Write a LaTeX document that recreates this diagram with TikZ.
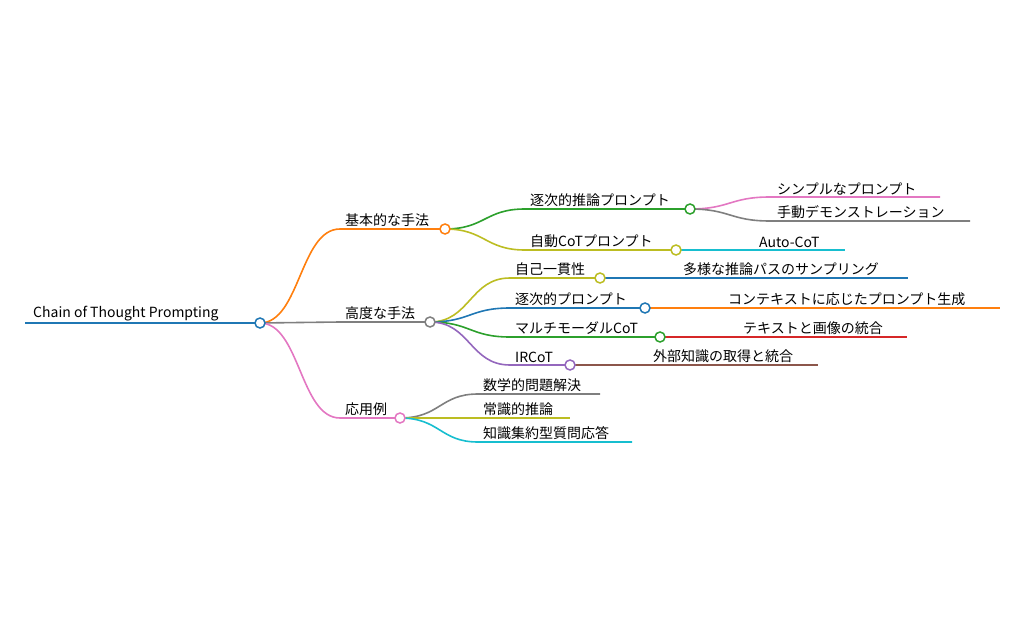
\documentclass[tikz,border=0pt]{standalone}
\usepackage{fontspec}
\setmainfont{Noto Sans CJK JP}
\usetikzlibrary{positioning}
\definecolor{cblue}{HTML}{1F77B4}
\definecolor{corange}{HTML}{FF7F0E}
\definecolor{cgreen}{HTML}{2CA02C}
\definecolor{cred}{HTML}{D62728}
\definecolor{cpurple}{HTML}{9467BD}
\definecolor{cbrown}{HTML}{8C564B}
\definecolor{cpink}{HTML}{E377C2}
\definecolor{cgray}{HTML}{7F7F7F}
\definecolor{colive}{HTML}{BCBD22}
\definecolor{ccyan}{HTML}{17BECF}
\begin{document}
\begin{tikzpicture}
            [x=1pt,y=-1pt,
             dot/.style={circle,inner sep=0pt,minimum size=10pt,draw=#1,line width=1.5pt,fill=white},
             line/.style={line width=1.6pt,draw=#1},
             lbl/.style={anchor=south west,inner sep=2pt,font=\fontsize{14}{16}\selectfont}]
            \useasboundingbox (0,0) rectangle (1024,620);
            % root
            \coordinate (r0) at (25,323);
            \draw[line=cblue] (r0) -- (260,323);
            \node[lbl] at (r0) [xshift=6pt] {Chain of Thought Prompting};
            % first level
            \coordinate (b1) at (340,229);
            \coordinate (b2) at (340,322);
            \coordinate (b3) at (340,418);
            \draw[line=corange] (260,323) .. controls (300,323) and (300,229) .. (b1) -- (445,229);
            \draw[line=cgray] (260,323) -- (b2) -- (430,322);
            \draw[line=cpink] (260,323) .. controls (300,323) and (300,418) .. (b3) -- (400,418);
            \node[lbl] at (b1) [xshift=3pt] {基本的な手法};
            \node[lbl] at (b2) [xshift=3pt] {高度な手法};
            \node[lbl] at (b3) [xshift=3pt] {応用例};
            % basic
            \coordinate (s1) at (525,209);
            \coordinate (s2) at (525,250);
            \draw[line=cgreen] (445,229) .. controls (485,229) and (485,209) .. (s1) -- (690,209);
            \draw[line=colive] (445,229) .. controls (485,229) and (485,250) .. (s2) -- (676,250);
            \node[lbl] at (s1) [xshift=3pt] {逐次的推論プロンプト};
            \node[lbl] at (s2) [xshift=3pt] {自動CoTプロンプト};
            \coordinate (s11) at (770,197);
            \coordinate (s12) at (770,221);
            \draw[line=cpink] (690,209) .. controls (730,209) and (730,197) .. (s11) -- (940,197);
            \draw[line=cgray] (690,209) .. controls (730,209) and (730,221) .. (s12) -- (970,221);
            \node[lbl] at (s11) [xshift=5pt] {シンプルなプロンプト};
            \node[lbl] at (s12) [xshift=5pt] {手動デモンストレーション};
            \draw[line=ccyan] (676,250) -- (845,250);
            \node[lbl] at (757,250) {Auto-CoT};
            % advanced
            \coordinate (a1) at (510,278);
            \coordinate (a2) at (510,308);
            \coordinate (a3) at (510,337);
            \coordinate (a4) at (510,365);
            \draw[line=colive] (430,322) .. controls (470,322) and (470,278) .. (a1) -- (600,278);
            \draw[line=cblue] (430,322) .. controls (470,322) and (470,308) .. (a2) -- (645,308);
            \draw[line=cgreen] (430,322) .. controls (470,322) and (470,337) .. (a3) -- (660,337);
            \draw[line=cpurple] (430,322) .. controls (470,322) and (470,365) .. (a4) -- (570,365);
            \node[lbl] at (a1) [xshift=3pt] {自己一貫性};
            \node[lbl] at (a2) [xshift=3pt] {逐次的プロンプト};
            \node[lbl] at (a3) [xshift=3pt] {マルチモーダルCoT};
            \node[lbl] at (a4) [xshift=3pt] {IRCoT};
            \draw[line=cblue] (600,278) -- (908,278);
            \draw[line=corange] (645,308) -- (1000,308);
            \draw[line=cred] (660,337) -- (907,337);
            \draw[line=cbrown] (570,365) -- (818,365);
            \node[lbl] at (681,278) {多様な推論パスのサンプリング};
            \node[lbl] at (726,308) {コンテキストに応じたプロンプト生成};
            \node[lbl] at (741,337) {テキストと画像の統合};
            \node[lbl] at (651,365) {外部知識の取得と統合};
            % applications
            \coordinate (p1) at (478,394);
            \coordinate (p2) at (478,418);
            \coordinate (p3) at (478,442);
            \draw[line=cgray] (400,418) .. controls (440,418) and (440,394) .. (p1) -- (600,394);
            \draw[line=colive] (400,418) -- (p2) -- (570,418);
            \draw[line=ccyan] (400,418) .. controls (440,418) and (440,442) .. (p3) -- (632,442);
            \node[lbl] at (p1) [xshift=3pt] {数学的問題解決};
            \node[lbl] at (p2) [xshift=3pt] {常識的推論};
            \node[lbl] at (p3) [xshift=3pt] {知識集約型質問応答};
            % dots
            \node[dot=cblue] (root) at (260,323) {};
            \node[dot=corange] (basic) at (445,229) {};
            \node[dot=cgray] (adv) at (430,322) {};
            \node[dot=cpink] (app) at (400,418) {};
            \node[dot=cgreen] (seq) at (690,209) {};
            \node[dot=colive] (auto) at (676,250) {};
            \node[dot=colive] (self) at (600,278) {};
            \node[dot=cblue] (step) at (645,308) {};
            \node[dot=cgreen] (multi) at (660,337) {};
            \node[dot=cpurple] (ir) at (570,365) {};
        \end{tikzpicture}
\end{document}
